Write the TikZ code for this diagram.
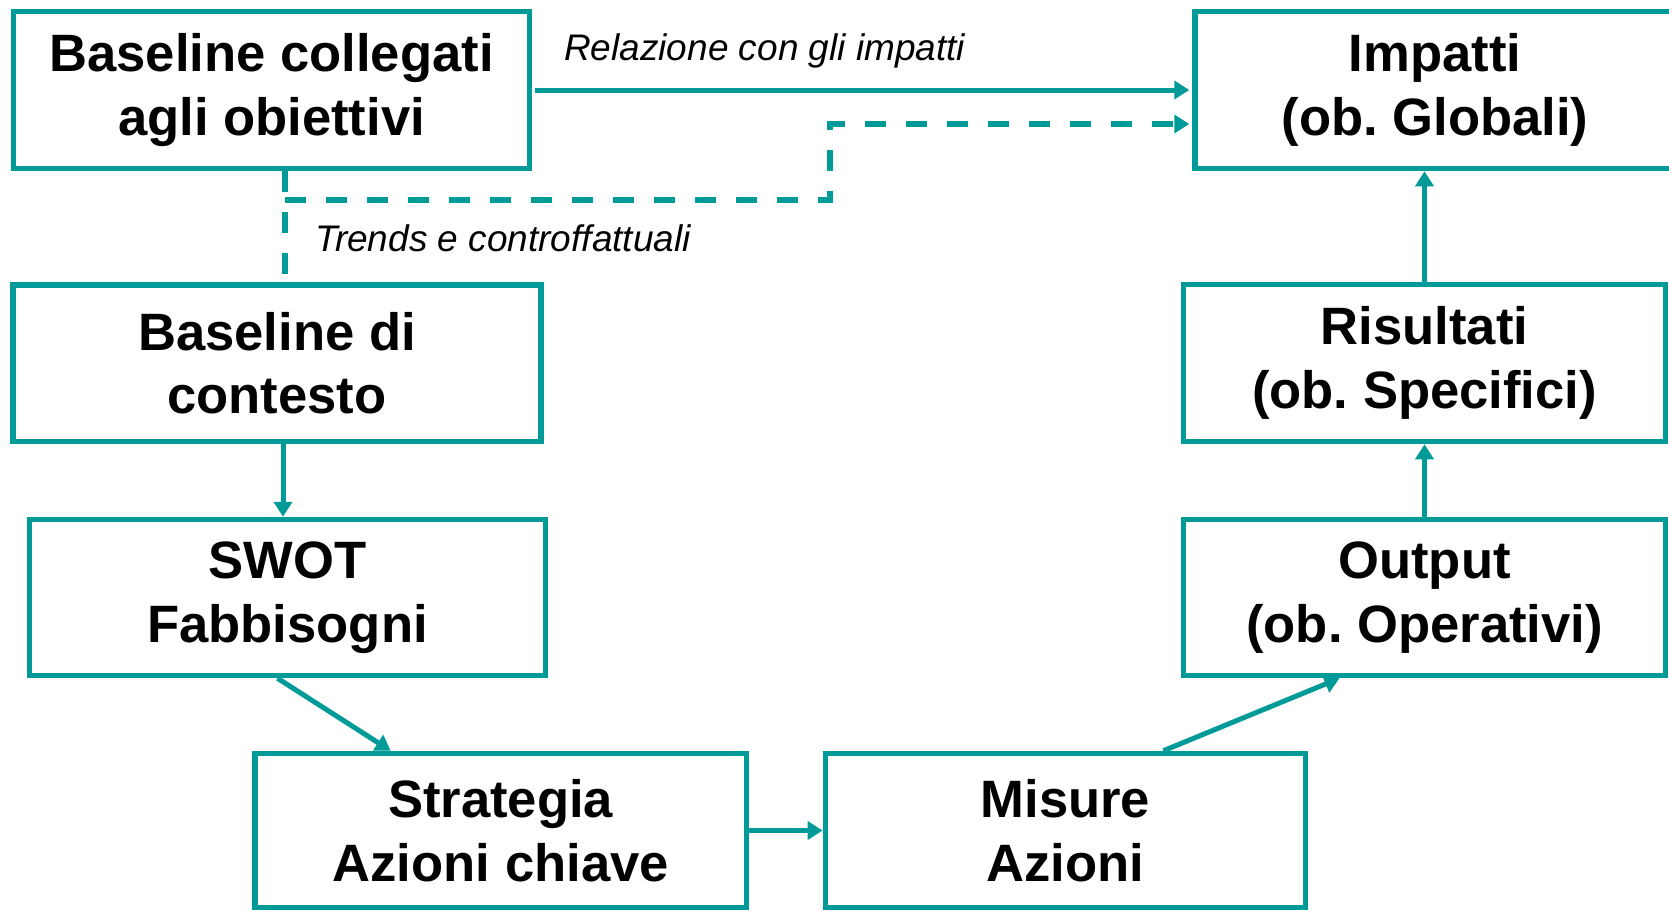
\documentclass[tikz,border=0pt]{standalone}
\usepackage{fontspec}
\setmainfont{Liberation Sans}
\usetikzlibrary{arrows.meta}
\definecolor{teal1}{RGB}{0,155,152}
\frenchspacing
\begin{document}
\begin{tikzpicture}[x=1pt,y=-1pt,
 box/.style={draw=teal1, line width=5.5pt, align=center, inner sep=0pt, text=black,
   font=\fontsize{52.6}{63.5}\selectfont\bfseries},
 tip/.style={-{Triangle[length=15pt,width=18pt]}},
 arr/.style={draw=teal1, line width=5pt, tip},
 dsh/.style={draw=teal1, line width=5.5pt, dash pattern=on 21pt off 20pt},
 lbl/.style={font=\fontsize{37}{44}\selectfont\itshape, inner sep=0pt, anchor=base west}]
\useasboundingbox (0,0) rectangle (1669,910);
\node[box, minimum width=516pt, minimum height=157pt] (b1) at (271.5,90) {Baseline collegati\\agli obiettivi};
\node[box, minimum width=480pt, minimum height=157pt] (imp) at (1435,90) {Impatti\\(ob. Globali)};
\node[box, minimum width=528pt, minimum height=156.5pt] (b2) at (277,363) {Baseline di\\contesto};
\node[box, minimum width=482pt, minimum height=157pt] (ris) at (1424.5,363) {Risultati\\(ob. Specifici)};
\node[box, minimum width=516pt, minimum height=156pt] (swot) at (287.5,597.5) {SWOT\\Fabbisogni};
\node[box, minimum width=482pt, minimum height=156pt] (out) at (1424.5,597.5) {Output\\(ob. Operativi)};
\node[box, minimum width=491.5pt, minimum height=154pt] (str) at (500.7,830.5) {Strategia\\Azioni chiave};
\node[box, minimum width=480pt, minimum height=154pt] (mis) at (1065.4,830.5) {Misure\\Azioni};

\draw[arr, shorten <=3pt, shorten >=3pt] (b1.east) -- (imp.west);
\coordinate (j) at (285,200);
\coordinate (k) at (830,124);
\draw[dsh] (j |- b1.south) -- (j |- b2.north);
\draw[dsh, tip, shorten >=3pt] (j) -| (k) -- (k -| imp.west);

\coordinate (c1) at ([xshift=6pt]b2.south);
\draw[arr] (c1) -- (c1 |- swot.north);
\draw[arr] ([xshift=-10pt]swot.south) -- ([xshift=-110pt]str.north);
\draw[arr] (str.east) -- (mis.west);
\draw[arr] ([xshift=98pt]mis.north) -- ([xshift=-85pt]out.south);
\draw[arr] (out.north) -- (ris.south);
\draw[arr] (ris.north) -- (ris.north |- imp.south);

\node[lbl] (l1) at (564,60) {Relazione con gli impatti};
\node[lbl] (l2) at (315,251.7) {Trends e controffattuali};
\end{tikzpicture}
\end{document}
